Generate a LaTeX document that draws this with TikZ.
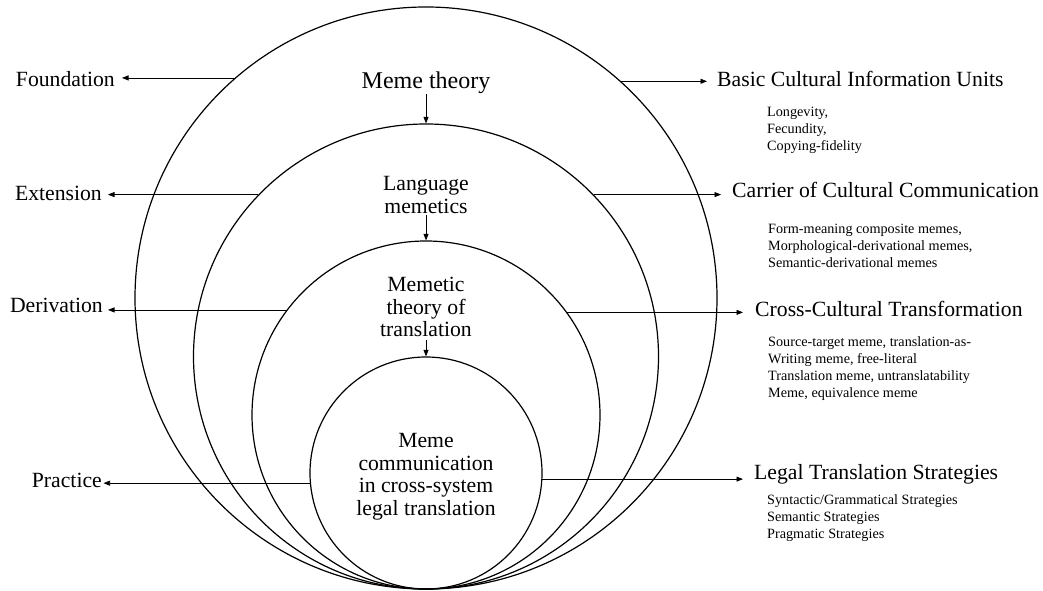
\documentclass[tikz,border=0pt]{standalone}
\usepackage{fontspec}
\setmainfont{Liberation Serif}
\usetikzlibrary{arrows.meta}
\begin{document}
\begin{tikzpicture}[x=1pt,y=1pt,
  ring/.style={circle,draw,line width=1.2pt,inner sep=0pt},
  arr/.style={-{Triangle[length=6.5pt,width=5pt]},line width=0.7pt},
  big/.style={font=\fontsize{21.7}{22.5}\selectfont,inner sep=0pt},
  small/.style={font=\fontsize{14.2}{16.7}\selectfont,inner sep=0pt,align=left,anchor=base west},
]
\useasboundingbox (0,0) rectangle (1043,591);
% rings
\node[ring,minimum size=582pt] (c1) at (426,293) {};
\node[ring,minimum size=465pt] (c2) at (426,234.5) {};
\node[ring,minimum size=348pt] (c3) at (426,176) {};
\node[ring,minimum size=232pt] (c4) at (426,118) {};
% centre texts (base = baseline of last line)
\node[font=\fontsize{24}{26}\selectfont,inner sep=0pt,anchor=base] (tmeme) at (426,502) {Meme theory};
\node[big,align=center,anchor=base] (tlang) at (426,377.5) {Language\\memetics};
\node[big,align=center,anchor=base] (tmt) at (426,254) {Memetic\\theory of\\translation};
\node[big,align=center,anchor=base] (tcomm) at (426,75.5) {Meme\\communication\\in cross-system\\legal translation};
% left labels
\node[big,anchor=base east] (lfound) at (115,504) {Foundation};
\node[big,anchor=base east] (lext) at (102,390) {Extension};
\node[big,anchor=base east] (lder) at (103,278) {Derivation};
\node[big,anchor=base east] (lprac) at (102,103) {Practice};
% right labels
\node[big,anchor=base west] (rbasic) at (717,504) {Basic Cultural Information Units};
\node[big,anchor=base west] (rcarr) at (732,393) {Carrier of Cultural Communication};
\node[big,anchor=base west] (rcross) at (755,274) {Cross-Cultural Transformation};
\node[big,anchor=base west] (rlegal) at (754,111) {Legal Translation Strategies};
% detail blocks
\node[small] (dbasic) at (767,440.6) {Longevity,\\Fecundity,\\Copying-fidelity};
\node[small] (dcarr) at (768,323.6) {Form-meaning composite memes,\\Morphological-derivational memes,\\Semantic-derivational memes};
\node[small] (dcross) at (768,193.9) {Source-target meme, translation-as-\\Writing meme, free-literal\\Translation meme, untranslatability\\Meme, equivalence meme};
\node[small] (dlegal) at (767,52.6) {Syntactic/Grammatical Strategies\\Semantic Strategies\\Pragmatic Strategies};
% vertical arrows
\draw[arr] (tmeme.south -| c2.north) -- (c2.north);
\draw[arr,shorten <=1pt] (tlang.south -| c3.north) -- (c3.north);
\draw[arr,shorten <=3pt] (tmt.south -| c4.north) -- (c4.north);
% left arrows
\draw[arr,shorten >=7pt] (c1.131.8) -- (c1.131.8 -| lfound.east);
\draw[arr,shorten >=6pt] (c2.136) -- (c2.136 -| lext.east);
\draw[arr,shorten >=5pt] (c3.143.3) -- (c3.143.3 -| lder.east);
\draw[arr,shorten >=1.5pt] (c4.185.9) -- (c4.185.9 -| lprac.east);
% right arrows
\draw[arr,shorten >=10pt] (c1.48.2) -- (c1.48.2 -| rbasic.west);
\draw[arr,shorten >=11pt] (c2.44.2) -- (c2.44.2 -| rcarr.west);
\draw[arr,shorten >=12pt] (c3.36.7) -- (c3.36.7 -| rcross.west);
\draw[arr,shorten >=11pt] (c4.-3.5) -- (c4.-3.5 -| rlegal.west);
\end{tikzpicture}
\end{document}
